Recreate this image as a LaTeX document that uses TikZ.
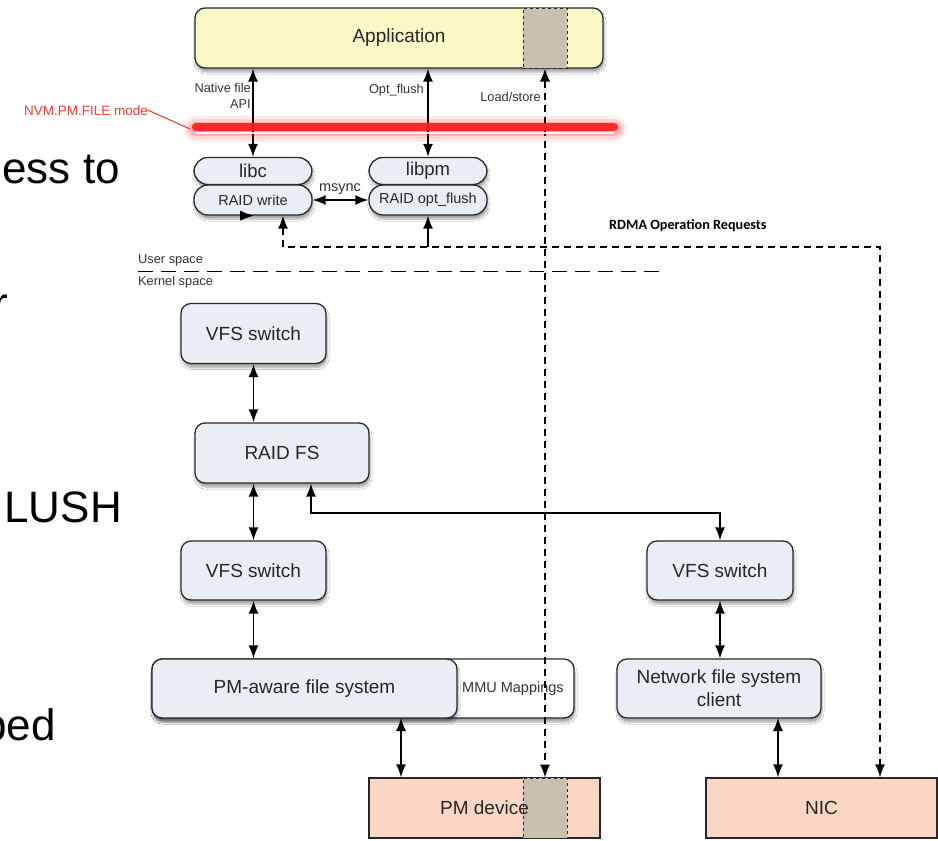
\documentclass[tikz,border=0pt]{standalone}
\usepackage{fontspec}
\setmainfont{Liberation Sans}
\newfontfamily\rdmafont{Carlito}
\usetikzlibrary{arrows.meta,shadows.blur}
\definecolor{appyellow}{RGB}{250,248,198}
\definecolor{boxblue}{RGB}{233,238,244}
\definecolor{devsalmon}{RGB}{250,215,196}
\definecolor{slotgrey}{RGB}{200,193,178}
\definecolor{edge}{RGB}{40,40,40}
\definecolor{nvmred}{RGB}{232,62,44}
\begin{document}
\begin{tikzpicture}[x=1pt, y=-1pt, >={Latex[length=13pt,width=10pt]},
    box/.style={draw=edge, line width=1.3pt, rounded corners=10pt, fill=boxblue, inner sep=0pt,
        align=center, text=black!85, font=\fontsize{19}{23}\selectfont,
        blur shadow={shadow xshift=1pt, shadow yshift=-4pt, shadow opacity=35, shadow blur steps=6}},
    pill/.style={box, rounded corners=14pt, minimum width=118pt, font=\fontsize{14.5}{17}\selectfont},
    device/.style={draw=edge, line width=1.3pt, fill=devsalmon, minimum width=231pt, minimum height=60pt,
        inner sep=0pt, text=black!85, font=\fontsize{19}{23}\selectfont},
    slot/.style={draw=edge, dashed, line width=1pt, fill=slotgrey, minimum width=44pt, minimum height=60pt},
    lbl/.style={text=black!80, font=\fontsize{12.8}{16}\selectfont, inner sep=0pt},
    slide/.style={font=\fontsize{44}{50}\selectfont, inner sep=0pt},
    link/.style={<->, line width=1.4pt},
    req/.style={line width=1.4pt, dash pattern=on 7pt off 5pt}]
    % Page frame
    \useasboundingbox (0,0) rectangle (938,841);
    \clip (0,0) rectangle (938,841);
    \fill[white] (0,0) rectangle (938,841);
    % Slide text cut off at the left
    \node[slide, anchor=base east] (sla) at (120,183) {ess to};
    \node[slide, anchor=base east] (slb) at (8,318) {r};
    \node[slide, anchor=base east] (slc) at (122,522) {LUSH};
    \node[slide, anchor=base east] (sld) at (56,740) {ped};
    % Application and the libraries
    \node[box, fill=appyellow, minimum width=408pt, minimum height=60pt] (app) at (399,38) {Application};
    \node[slot] (appslot) at (545,38) {};
    \node[pill, minimum height=27pt, font=\fontsize{18.5}{22}\selectfont] (libc) at (253,171) {libc};
    \node[pill, minimum height=30pt] (rwrite) at (253,200) {RAID write};
    \node[pill, minimum height=27pt, font=\fontsize{18.5}{22}\selectfont] (libpm) at (428,171) {libpm};
    \node[pill, minimum height=30pt] (roptflush) at (428,200) {RAID opt\_flush};
    % Kernel side
    \node[box, minimum width=145pt, minimum height=60pt] (vfsa) at (253.5,333.5) {VFS switch};
    \node[box, minimum width=174pt, minimum height=60pt] (raidfs) at (282,453) {RAID FS};
    \node[box, minimum width=145pt, minimum height=59pt] (vfsb) at (253.5,570.5) {VFS switch};
    \node[box, minimum width=146pt, minimum height=59pt] (vfsc) at (720,570.5) {VFS switch};
    \node[box, fill=white, minimum width=422pt, minimum height=59pt] (mmu) at (363,688.5) {};
    \node[box, minimum width=305pt, minimum height=59pt] (pmfs) at (304.5,688.5) {PM-aware file system};
    \node[lbl, anchor=west, font=\fontsize{14.5}{17}\selectfont] (mmutxt) at (462,689) {MMU Mappings};
    \node[box, minimum width=204pt, minimum height=59pt] (nfsc) at (719,688.5) {Network file system\\client};
    % Devices
    \node[device] (pmdev) at (484.5,808) {};
    \node[slot] (pmslot) at (545,808) {};
    \node[lbl, font=\fontsize{19}{23}\selectfont, text=black!85] (pmtxt) at (pmdev) {PM device};
    \node[device] (nic) at (821.5,808) {NIC};
    % Labels
    \node[lbl, anchor=east, align=right] (apilbl) at (251,96) {Native file\\API};
    \node[lbl, anchor=east] (optlbl) at (424,90) {Opt\_flush};
    \node[lbl, anchor=east] (lslbl) at (541,97) {Load/store};
    \node[lbl, anchor=base, font=\fontsize{14.5}{17}\selectfont] (msynclbl) at (340,191) {msync};
    \node[lbl, anchor=base west] (userlbl) at (138,263) {User space};
    \node[lbl, anchor=base west] (kernlbl) at (138,285) {Kernel space};
    \node[inner sep=0pt, anchor=base west, font=\rdmafont\bfseries\fontsize{14.2}{17}\selectfont] (rdmalbl) at (609,229) {RDMA Operation Requests};
    \node[inner sep=0pt, anchor=base east, text=nvmred, font=\fontsize{13.5}{16}\selectfont] (nvmlbl) at (148,115) {NVM.PM.FILE mode};
    % Solid connectors
    \draw[link] (libc.north |- app.south) -- (libc.north);
    \draw[link] (libpm.north |- app.south) -- (libpm.north);
    \draw[link] (rwrite.east) -- (roptflush.west);
    \draw[link] (rwrite.south) -- (vfsa.north |- rwrite.south);
    \draw[link] (vfsa.south) -- (vfsa.south |- raidfs.north);
    \draw[link] (vfsb.north |- raidfs.south) -- (vfsb.north);
    \draw[link] (vfsb.south) -- (vfsb.south |- pmfs.north);
    \coordinate (split) at (311,513);
    \draw[link] (split |- raidfs.south) -- (split) -| (vfsc.north);
    \draw[link] (vfsc.south) -- (vfsc.south |- nfsc.north);
    \coordinate (pmdown) at (401,718);
    \draw[link] (pmdown) -- (pmdown |- pmdev.north);
    \coordinate (nicup) at (778,718);
    \draw[link] (nicup) -- (nicup |- nic.north);
    % User / kernel boundary
    \coordinate (ukL) at (138,271.5);
    \coordinate (ukR) at (662,271.5);
    \draw[line width=1.5pt, dash pattern=on 15pt off 8pt] (ukL) -- (ukR);
    % Dashed requests
    \draw[req, <->] (appslot.south) -- (pmslot.north);
    \coordinate (rdmaL) at (283,247);
    \coordinate (rdmaR) at (880,247);
    \draw[req, <->] (rdmaL |- rwrite.south) -- (rdmaL) -- (rdmaR) -- (rdmaR |- nic.north);
    \draw[->, line width=1.4pt] (roptflush.south |- rdmaL) -- (roptflush.south);
    % NVM.PM.FILE mode bar
    \coordinate (barL) at (196,127);
    \coordinate (barR) at (614,127);
    \foreach \w/\o in {26/0.07, 20/0.1, 14/0.18}
        \draw[red, opacity=\o, line width=\w pt, line cap=round] ([yshift=-2pt]barL) -- ([yshift=-2pt]barR);
    \draw[red!90!white, opacity=0.9, line width=8pt, line cap=round] (barL) -- (barR);
    \draw[white, opacity=0.85, line width=1.2pt] ([yshift=-6pt]barL) -- ([yshift=-6pt]barR);
    \draw[nvmred, line width=1pt] (nvmlbl.east) -- ([xshift=-6pt,yshift=-2pt]barL);
\end{tikzpicture}
\end{document}
